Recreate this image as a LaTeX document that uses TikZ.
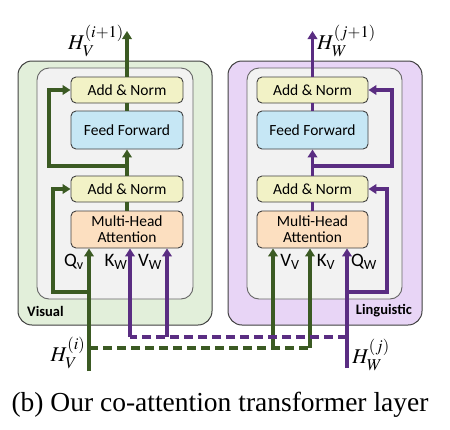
\documentclass[tikz,border=0pt]{standalone}
\usepackage{mathptmx}
\usepackage[no-math]{fontspec}
\setmainfont{Liberation Serif}
\newfontfamily\carlito{Carlito}
\usetikzlibrary{arrows.meta}
\DeclareMathSizes{21}{21}{16.5}{13}
\definecolor{vfill}{HTML}{E2EFDA}
\definecolor{wfill}{HTML}{E8D5F6}
\definecolor{infill}{HTML}{F2F2F2}
\definecolor{anfill}{HTML}{F2F2C6}
\definecolor{fffill}{HTML}{C6E7F5}
\definecolor{mhfill}{HTML}{FCDFC0}
\definecolor{gline}{HTML}{3B5A23}
\definecolor{pline}{HTML}{5A2D82}
\definecolor{bord}{HTML}{404040}
\tikzset{
  outerbox/.style={draw=bord, line width=1pt, rounded corners=14pt, minimum width=194pt, minimum height=264pt, inner sep=0pt},
  innerbox/.style={draw=bord!80, line width=0.9pt, fill=infill, rounded corners=12pt, minimum width=156pt, minimum height=231pt, inner sep=0pt},
  blk/.style={draw=bord, line width=0.9pt, rounded corners=5pt, minimum width=112pt, inner sep=0pt, font=\carlito\fontsize{15.5}{17}\selectfont, align=center},
  anbox/.style={blk, fill=anfill, minimum height=26pt},
  ffbox/.style={blk, fill=fffill, minimum height=38pt},
  mhbox/.style={blk, fill=mhfill, minimum height=37pt},
  garr/.style={draw=gline, line width=3.2pt},
  parr/.style={draw=pline, line width=3.2pt},
  tip/.style={-{Triangle[width=9.5pt,length=8pt]}},
  dsh/.style={dash pattern=on 9pt off 5pt},
  qlab/.style={font=\carlito\fontsize{19}{21}\selectfont, inner sep=0pt},
  hlab/.style={font=\fontsize{21}{23}\selectfont, inner sep=0pt},
}
\begin{document}
\begin{tikzpicture}[x=1pt,y=-1pt]
\useasboundingbox (0,0) rectangle (450,429);
% containers
\node[outerbox, fill=vfill] (vis) at (115,193) {};
\node[outerbox, fill=wfill] (lin) at (325,193) {};
\node[innerbox] (visin) at (115,183.5) {};
\node[innerbox, minimum width=155pt] (linin) at (324.5,183.5) {};
\node[font=\carlito\bfseries\fontsize{14.5}{16}\selectfont, anchor=west, inner sep=0pt] (vislab) at (27,311) {Visual};
\node[font=\carlito\bfseries\fontsize{14.5}{16}\selectfont, anchor=east, inner sep=0pt] (linlab) at (412,311) {Linguistic};
% left blocks
\node[anbox] (an1) at (127,90) {Add \& Norm};
\node[ffbox] (ff) at (127,130) {Feed Forward};
\node[anbox] (an2) at (127,189) {Add \& Norm};
\node[mhbox] (mha) at (127,229.5) {Multi-Head\\[-1pt]Attention};
% right blocks
\node[anbox, minimum width=111pt] (ran1) at (312.5,90) {Add \& Norm};
\node[ffbox, minimum width=111pt] (rff) at (312.5,130) {Feed Forward};
\node[anbox, minimum width=111pt] (ran2) at (312.5,189) {Add \& Norm};
\node[mhbox, minimum width=111pt] (rmha) at (312.5,229.5) {Multi-Head\\[-1pt]Attention};
% coordinates
\coordinate (vtop) at (127,31);
\coordinate (wtop) at (312.5,31);
\coordinate (vj) at (127,166);
\coordinate (wj) at (312.5,166);
\coordinate (vbot) at (89,371);
\coordinate (wbot) at (347,368);
\coordinate (vres) at (89,292);
\coordinate (wres) at (347,292);
\coordinate (gd) at (89,348);
\coordinate (gd1) at (273,348);
\coordinate (gd2) at (310,348);
\coordinate (pd) at (347,337);
\coordinate (pd1) at (130,337);
\coordinate (pd2) at (167,337);
% dashed cross connections
\draw[garr, dsh] (gd) -- (gd2);
\draw[garr, tip] (gd1) -- (gd1 |- rmha.south);
\draw[garr, tip] (gd2) -- (gd2 |- rmha.south);
\draw[parr, dsh] (pd) -- (pd1);
\draw[parr, tip] (pd1) -- (pd1 |- mha.south);
\draw[parr, tip] (pd2) -- (pd2 |- mha.south);
% left stream
\draw[garr, tip] (vbot) -- (vbot |- mha.south);
\draw[garr, tip] (vres) -- (53,292) -- (53,189) -- (an2.west);
\draw[garr] (mha.north) -- (an2.south);
\draw[garr, tip] (an2.north) -- (ff.south);
\draw[garr, tip] (vj) -- (49,166) -- (49,90) -- (an1.west);
\draw[garr] (ff.north) -- (an1.south);
\draw[garr, tip] (an1.north) -- (vtop);
% right stream
\draw[parr, tip] (wbot) -- (wbot |- rmha.south);
\draw[parr, tip] (wres) -- (387,292) -- (387,189) -- (ran2.east);
\draw[parr] (rmha.north) -- (ran2.south);
\draw[parr, tip] (ran2.north) -- (rff.south);
\draw[parr, tip] (wj) -- (392,166) -- (392,90) -- (ran1.east);
\draw[parr] (rff.north) -- (ran1.south);
\draw[parr, tip] (ran1.north) -- (wtop);
% input labels
\node[qlab] (qv) at (74,262) {Q\textsubscript{v}};
\node[qlab] (kw) at (116,262) {K\textsubscript{W}};
\node[qlab] (vw) at (150,262) {V\textsubscript{W}};
\node[qlab] (vv) at (290,262) {V\textsubscript{V}};
\node[qlab] (kv) at (326,262) {K\textsubscript{V}};
\node[qlab] (qw) at (364,262) {Q\textsubscript{W}};
% H labels
\node[hlab, anchor=east] (hv1) at (124,41) {$H_V^{(i+1)}$};
\node[hlab, anchor=west] (hw1) at (317,41) {$H_W^{(j+1)}$};
\node[hlab] (hv) at (68,353) {$H_V^{(i)}$};
\node[hlab] (hw) at (371,355) {$H_W^{(j)}$};
% caption
\node[font=\fontsize{27.5}{30}\selectfont, inner sep=0pt] (cap) at (220,405) {(b) Our co-attention transformer layer};
\end{tikzpicture}
\end{document}
